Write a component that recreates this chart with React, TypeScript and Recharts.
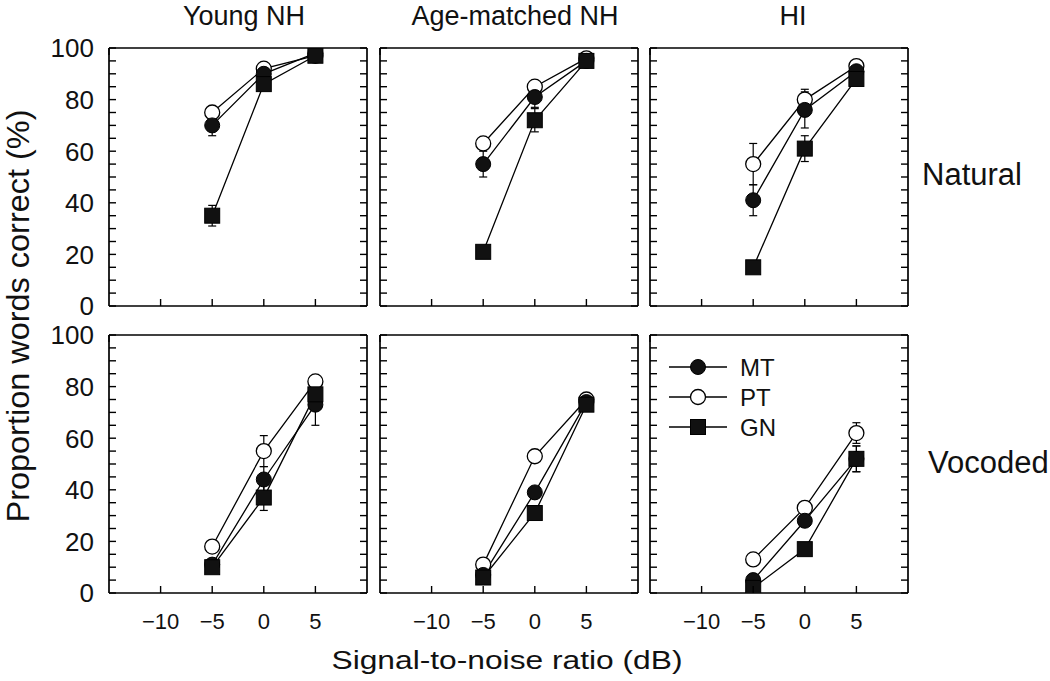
import { LineChart, Line, XAxis, YAxis, ErrorBar, Legend } from 'recharts';

// SNR conditions (dB) and axis ticks
const snr = [-5, 0, 5];
const xTicks = [-10, -5, 0, 5];
const yTicks = [0, 5, 10, 15, 20, 25, 30, 35, 40, 45, 50, 55, 60, 65, 70, 75, 80, 85, 90, 95, 100];
const yLabelTicks = [0, 20, 40, 60, 80, 100];

const groups = ['Young NH', 'Age-matched NH', 'HI'];
const conditions = ['Natural', 'Vocoded'];
const seriesNames = ['MT', 'PT', 'GN'];

// Natural speech, % words correct at -5, 0, 5 dB
const youngNaturalMT = [70, 90, 98];
const youngNaturalPT = [75, 92, 97];
const youngNaturalGN = [35, 86, 97];
const agedNaturalMT = [55, 81, 95];
const agedNaturalPT = [63, 85, 96];
const agedNaturalGN = [21, 72, 95];
const hiNaturalMT = [41, 76, 91];
const hiNaturalPT = [55, 80, 93];
const hiNaturalGN = [15, 61, 88];

// Vocoded speech
const youngVocodedMT = [11, 44, 73];
const youngVocodedPT = [18, 55, 82];
const youngVocodedGN = [10, 37, 77];
const agedVocodedMT = [7, 39, 74];
const agedVocodedPT = [11, 53, 75];
const agedVocodedGN = [6, 31, 73];
const hiVocodedMT = [5, 28, 52];
const hiVocodedPT = [13, 33, 62];
const hiVocodedGN = [2, 17, 52];

// standard errors
const youngNaturalMTErr = [4, 2, 1];
const youngNaturalPTErr = [2, 1, 1];
const youngNaturalGNErr = [4, 2, 1];
const agedNaturalMTErr = [5, 4, 1];
const agedNaturalPTErr = [2, 2, 1];
const agedNaturalGNErr = [1, 4.5, 1];
const hiNaturalMTErr = [6, 7, 1];
const hiNaturalPTErr = [8, 4, 1];
const hiNaturalGNErr = [1, 5, 1];
const youngVocodedMTErr = [1, 5, 8];
const youngVocodedPTErr = [1, 6, 1];
const youngVocodedGNErr = [1, 5, 5];
const agedVocodedMTErr = [1, 1, 1];
const agedVocodedPTErr = [1, 2, 1];
const agedVocodedGNErr = [1, 1, 1];
const hiVocodedMTErr = [1, 2, 5];
const hiVocodedPTErr = [1, 2, 4];
const hiVocodedGNErr = [1, 2, 5];

const FONT = '"Liberation Sans", Arial, Helvetica, sans-serif';
const SIZE = 258;
// outer space around each plot box; each axis takes 1px of it
const PAD = { top: 22, right: 12, bottom: 44, left: 70 };
const M = { top: PAD.top - 1, right: PAD.right - 1, bottom: PAD.bottom - 1, left: PAD.left - 1 };
const colLeft = [109, 380, 650];
const rowTop = [48, 335];
const TICK = 7;

const panels = [
  { row: 0, col: 0, mt: youngNaturalMT, pt: youngNaturalPT, gn: youngNaturalGN, mtErr: youngNaturalMTErr, ptErr: youngNaturalPTErr, gnErr: youngNaturalGNErr },
  { row: 0, col: 1, mt: agedNaturalMT, pt: agedNaturalPT, gn: agedNaturalGN, mtErr: agedNaturalMTErr, ptErr: agedNaturalPTErr, gnErr: agedNaturalGNErr },
  { row: 0, col: 2, mt: hiNaturalMT, pt: hiNaturalPT, gn: hiNaturalGN, mtErr: hiNaturalMTErr, ptErr: hiNaturalPTErr, gnErr: hiNaturalGNErr },
  { row: 1, col: 0, mt: youngVocodedMT, pt: youngVocodedPT, gn: youngVocodedGN, mtErr: youngVocodedMTErr, ptErr: youngVocodedPTErr, gnErr: youngVocodedGNErr },
  { row: 1, col: 1, mt: agedVocodedMT, pt: agedVocodedPT, gn: agedVocodedGN, mtErr: agedVocodedMTErr, ptErr: agedVocodedPTErr, gnErr: agedVocodedGNErr },
  { row: 1, col: 2, mt: hiVocodedMT, pt: hiVocodedPT, gn: hiVocodedGN, mtErr: hiVocodedMTErr, ptErr: hiVocodedPTErr, gnErr: hiVocodedGNErr },
];

const fmt = (v: number) => (v < 0 ? '\u2212' + Math.abs(v) : String(v));
const tickStyle = { stroke: '#000', strokeWidth: 1.4 };

const BottomTick = (p: any) => (
  <g>
    <line x1={p.x} y1={p.y} x2={p.x} y2={p.y - TICK} {...tickStyle} />
    {p.showLabel && (
      <text x={p.x} y={p.y + 36} textAnchor='middle' fontSize={22} fill='#111' fontFamily={FONT}>
        {fmt(p.payload.value)}
      </text>
    )}
  </g>
);
const TopTick = (p: any) => <line x1={p.x} y1={p.y} x2={p.x} y2={p.y + TICK} {...tickStyle} />;
const LeftTick = (p: any) => (
  <g>
    <line x1={p.x} y1={p.y} x2={p.x + TICK} y2={p.y} {...tickStyle} />
    {p.showLabel && yLabelTicks.includes(p.payload.value) && (
      <text x={p.x - 15} y={p.y} dy='0.36em' textAnchor='end' fontSize={26} fill='#111' fontFamily={FONT}>
        {p.payload.value}
      </text>
    )}
  </g>
);
const RightTick = (p: any) => <line x1={p.x} y1={p.y} x2={p.x - TICK} y2={p.y} {...tickStyle} />;

const filledCircle = (p: any) => <circle key={`mt-${p.index}`} cx={p.cx} cy={p.cy} r={7.5} fill='#111' stroke='#000' strokeWidth={1} />;
const openCircle = (p: any) => <circle key={`pt-${p.index}`} cx={p.cx} cy={p.cy} r={7.5} fill='#fff' stroke='#000' strokeWidth={1.3} />;
const square = (p: any) => <rect key={`gn-${p.index}`} x={p.cx - 7.5} y={p.cy - 7.5} width={15} height={15} fill='#111' stroke='#000' strokeWidth={1} />;

const markers: Record<string, (p: any) => any> = { MT: filledCircle, PT: openCircle, GN: square };

const renderLegend = () => (
  <svg width={120} height={90}>
    {seriesNames.map((name, i) => (
      <g key={name}>
        <line x1={0} x2={58} y1={15 + i * 30} y2={15 + i * 30} stroke='#000' strokeWidth={1.3} />
        {markers[name]({ cx: 29, cy: 15 + i * 30, index: i })}
        <text x={71} y={15 + i * 30} dy='0.36em' fontSize={24} fill='#111' fontFamily={FONT}>
          {name}
        </text>
      </g>
    ))}
  </svg>
);

const axisLine = { stroke: '#000', strokeWidth: 1.7 };

const Panel = ({ panel }: { panel: (typeof panels)[number] }) => {
  const data = snr.map((s, i) => ({
    snr: s,
    mt: panel.mt[i],
    pt: panel.pt[i],
    gn: panel.gn[i],
    mtErr: panel.mtErr[i],
    ptErr: panel.ptErr[i],
    gnErr: panel.gnErr[i],
  }));
  const showX = panel.row === 1;
  const showY = panel.col === 0;
  const showLegend = panel.row === 1 && panel.col === 2;
  return (
    <div style={{ position: 'absolute', left: colLeft[panel.col] - PAD.left, top: rowTop[panel.row] - PAD.top }}>
      <LineChart width={SIZE + PAD.left + PAD.right} height={SIZE + PAD.top + PAD.bottom} data={data} margin={M}>
        <XAxis
          dataKey='snr'
          type='number'
          domain={[-15, 10]}
          ticks={xTicks}
          interval={0}
          height={1}
          tickSize={0}
          tickMargin={0}
          axisLine={axisLine}
          tickLine={false}
          tick={(p: any) => <BottomTick {...p} showLabel={showX} />}
          allowDataOverflow
        />
        <XAxis
          xAxisId='top'
          orientation='top'
          type='number'
          domain={[-15, 10]}
          ticks={xTicks}
          interval={0}
          height={1}
          tickSize={0}
          tickMargin={0}
          axisLine={axisLine}
          tickLine={false}
          tick={(p: any) => <TopTick {...p} />}
          allowDataOverflow
        />
        <YAxis
          type='number'
          domain={[0, 100]}
          ticks={yTicks}
          interval={0}
          width={1}
          tickSize={0}
          tickMargin={0}
          axisLine={axisLine}
          tickLine={false}
          tick={(p: any) => <LeftTick {...p} showLabel={showY} />}
          allowDataOverflow
        />
        <YAxis
          yAxisId='right'
          orientation='right'
          type='number'
          domain={[0, 100]}
          ticks={yTicks}
          interval={0}
          width={1}
          tickSize={0}
          tickMargin={0}
          axisLine={axisLine}
          tickLine={false}
          tick={(p: any) => <RightTick {...p} />}
          allowDataOverflow
        />
        <Line name='PT' dataKey='pt' type='linear' stroke='#000' strokeWidth={1.3} dot={openCircle} activeDot={false} isAnimationActive={false}>
          <ErrorBar dataKey='ptErr' direction='y' width={4} stroke='#000' strokeWidth={1.2} isAnimationActive={false} />
        </Line>
        <Line name='MT' dataKey='mt' type='linear' stroke='#000' strokeWidth={1.3} dot={filledCircle} activeDot={false} isAnimationActive={false}>
          <ErrorBar dataKey='mtErr' direction='y' width={4} stroke='#000' strokeWidth={1.2} isAnimationActive={false} />
        </Line>
        <Line name='GN' dataKey='gn' type='linear' stroke='#000' strokeWidth={1.3} dot={square} activeDot={false} isAnimationActive={false}>
          <ErrorBar dataKey='gnErr' direction='y' width={4} stroke='#000' strokeWidth={1.2} isAnimationActive={false} />
        </Line>
        {showLegend && (
          <Legend
            layout='vertical'
            align='center'
            verticalAlign='middle'
            content={renderLegend}
            wrapperStyle={{ left: 89, top: PAD.top + 17, width: 120, height: 90 }}
          />
        )}
      </LineChart>
    </div>
  );
};

export default function App() {
  return (
    <div style={{ position: 'relative', width: 1050, height: 681, background: '#fff', fontFamily: FONT, overflow: 'hidden' }}>
      <style>{'body{margin:0}'}</style>
      {panels.map((p) => (
        <Panel key={`${p.row}-${p.col}`} panel={p} />
      ))}
      <svg width={1050} height={681} style={{ position: 'absolute', left: 0, top: 0, pointerEvents: 'none' }}>
        <g fontFamily={FONT} fill='#111'>
          <text x={244} y={25} textAnchor='middle' fontSize={27}>{groups[0]}</text>
          <text x={515} y={25} textAnchor='middle' fontSize={27}>{groups[1]}</text>
          <text x={793} y={25} textAnchor='middle' fontSize={27}>{groups[2]}</text>
          <text x={922} y={185} fontSize={31}>{conditions[0]}</text>
          <text x={928} y={473} fontSize={31}>{conditions[1]}</text>
          <text x={507} y={669} textAnchor='middle' fontSize={25} textLength={351} lengthAdjust='spacingAndGlyphs'>
            Signal-to-noise ratio (dB)
          </text>
          <text transform='translate(29,316) rotate(-90)' textAnchor='middle' fontSize={31} textLength={413} lengthAdjust='spacingAndGlyphs'>
            Proportion words correct (%)
          </text>
        </g>
      </svg>
    </div>
  );
}
